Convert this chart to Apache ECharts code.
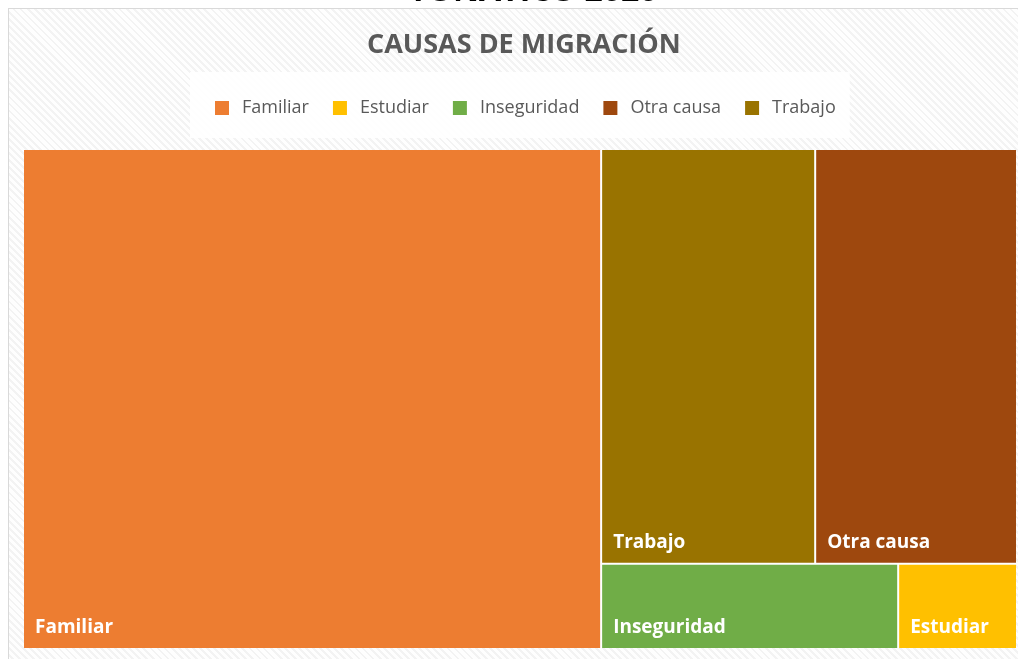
<!DOCTYPE html>
<html>
<head>
<meta charset="utf-8">
<script src="https://cdn.jsdelivr.net/npm/echarts@6/dist/echarts.min.js"></script>
<style>
    html, body { margin: 0; padding: 0; background: #fff; overflow: hidden; }
    #wrap { position: relative; width: 1018px; height: 659px; overflow: hidden; }
    /* marco rayado del grafico */
    #fondo {
        position: absolute; left: 8px; top: 8px; width: 1040px; height: 680px;
        border-left: 1px solid #d9d9d9; border-top: 1px solid #d9d9d9;
        background: repeating-linear-gradient(45deg, #fefefe 0px, #fefefe 3px, #f3f3f3 3px, #f3f3f3 5px);
    }
    #main { position: absolute; left: 0; top: 0; width: 1018px; height: 659px; }
</style>
</head>
<body>
<div id="wrap">
    <div id="fondo"></div>
    <div id="main"></div>
</div>
<script>
// causas de migracion
var causas = ['Familiar', 'Trabajo', 'Otra causa', 'Inseguridad', 'Estudiar'];
var valores = [114, 35, 33, 10, 4];
// orden de la leyenda
var leyenda = ['Familiar', 'Estudiar', 'Inseguridad', 'Otra causa', 'Trabajo'];

var colores = {
    'Familiar': '#ED7D31',
    'Estudiar': '#FFC000',
    'Inseguridad': '#70AD47',
    'Otra causa': '#9E480E',
    'Trabajo': '#997300'
};

var FUENTE = '"Open Sans", "Noto Sans", sans-serif';

var chart = echarts.init(document.getElementById('main'));

var datos = [];
for (var i = 0; i < causas.length; i++) {
    datos.push({
        name: causas[i],
        value: valores[i],
        itemStyle: { color: colores[causas[i]] }
    });
}

var option = {
    animation: false,
    title: [{
        text: 'TONATICO 2020',
        left: 404,
        top: -29,
        textStyle: { color: '#000', fontSize: 32, fontWeight: 'bold', fontFamily: FUENTE }
    }, {
        text: 'CAUSAS DE MIGRACIÓN',
        left: 362,
        top: 27,
        textStyle: { color: '#595959', fontSize: 27, fontWeight: 'bold', fontFamily: FUENTE }
    }],
    legend: {
        data: leyenda,
        left: 190,
        top: 72,
        padding: [27, 14, 21, 25],
        backgroundColor: 'rgba(255,255,255,0.9)',
        itemWidth: 14,
        itemHeight: 14,
        itemGap: 24,
        icon: 'rect',
        selectedMode: false,
        textStyle: { color: '#595959', fontSize: 18, fontFamily: FUENTE, padding: [3, 0, 0, 8] }
    },
    series: [{
        // solo para la leyenda
        type: 'pie',
        radius: [0, 0],
        silent: true,
        label: { show: false },
        labelLine: { show: false },
        data: datos
    }, {
        type: 'treemap',
        left: 24,
        top: 150,
        right: 2,
        bottom: 11,
        roam: false,
        nodeClick: false,
        breadcrumb: { show: false },
        itemStyle: { borderWidth: 0, gapWidth: 2, borderColor: '#fff' },
        label: {
            show: true,
            position: 'insideBottomLeft',
            distance: 6,
            color: '#fff',
            fontSize: 19,
            fontWeight: 'bold',
            fontFamily: FUENTE
        },
        data: datos
    }]
};

chart.setOption(option);
</script>
</body>
</html>
